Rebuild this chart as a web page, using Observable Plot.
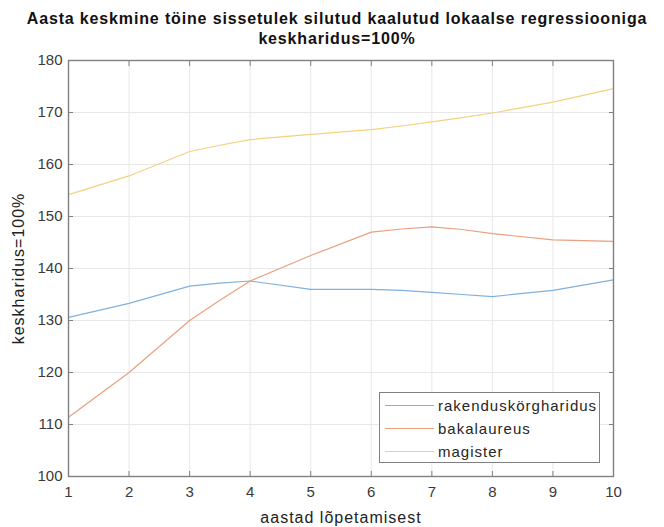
<!DOCTYPE html>
<html><head><meta charset="utf-8">
<script src="https://cdn.jsdelivr.net/npm/d3@7"></script>
<script src="https://cdn.jsdelivr.net/npm/@observablehq/plot@0.6"></script>
<style>
body{margin:0;background:#fff;font-family:"Liberation Sans",Arial,sans-serif;}
#wrap{position:relative;width:664px;height:527px;}
#title{position:absolute;left:0;top:9px;width:674px;text-align:center;font-weight:bold;font-size:16px;letter-spacing:0.85px;line-height:20px;color:#111;}
#chart{position:absolute;left:0;top:52px;}
#legend{position:absolute;left:379px;top:392px;width:221px;height:71px;border:1px solid #808080;background:#fff;box-sizing:border-box;font-size:15px;letter-spacing:1px;color:#262626;}
.row{position:absolute;left:5px;height:18px;display:flex;align-items:center;}
.row span.l{display:inline-block;width:49px;height:0;border-top:1.2px solid;margin-right:4px;}
</style></head>
<body><div id="wrap">
<div id="title">Aasta keskmine töine sissetulek silutud kaalutud lokaalse regressiooniga<br>keskharidus=100%</div>
<div id="chart"></div>
<div id="legend"></div>
</div>
<script>
const years = [1, 2, 3, 3.5, 4, 5, 6, 6.5, 7, 7.5, 8, 9, 10];
const rakenduskorgharidus = [130.6, 133.3, 136.6, 137.2, 137.6, 136.0, 136.0, 135.8, 135.4, 135.0, 134.6, 135.8, 137.8];
const bakalaureus = [111.4, 120.0, 130.0, 133.9, 137.6, 142.5, 147.0, 147.6, 148.0, 147.5, 146.7, 145.5, 145.2];
const magister = [154.2, 157.8, 162.5, 163.7, 164.8, 165.8, 166.7, 167.4, 168.2, 169.0, 169.9, 172.0, 174.6];
const seriesNames = ["rakenduskörgharidus", "bakalaureus", "magister"];
const seriesColors = ["#7fb1de", "#e8a07e", "#f3d27f"];
const xTicks = [1,2,3,4,5,6,7,8,9,10];
const yTicks = [100,110,120,130,140,150,160,170,180];

const seriesValues = [rakenduskorgharidus, bakalaureus, magister];
const data = [];
seriesNames.forEach((s, i) => years.forEach((x, j) => data.push({series: s, x, y: seriesValues[i][j]})));

const axisColor = "#808080";
const textStyle = {fill: "#3a3a3a", fontSize: 15, letterSpacing: "1px"};
const blank = () => "";

const chart = Plot.plot({
  width: 664, height: 475,
  marginTop: 8, marginBottom: 51, marginLeft: 68, marginRight: 51,
  style: {fontFamily: "Liberation Sans, Arial, sans-serif", fontSize: "15px", color: "#262626", background: "#fff"},
  x: {domain: [1, 10]},
  y: {domain: [100, 180]},
  color: {domain: seriesNames, range: seriesColors},
  marks: [
    Plot.gridX(xTicks, {stroke: "#e8e8e8", strokeOpacity: 1}),
    Plot.gridY(yTicks, {stroke: "#e8e8e8", strokeOpacity: 1}),
    Plot.line(data, {x: "x", y: "y", z: "series", stroke: "series", strokeWidth: 1.2}),
    // inward tick marks on all four sides
    Plot.axisX(xTicks, {anchor: "bottom", tickSize: 5, dy: -5, tickFormat: blank, label: null, stroke: axisColor}),
    Plot.axisX(xTicks, {anchor: "top", tickSize: 5, dy: 5, tickFormat: blank, label: null, stroke: axisColor}),
    Plot.axisY(yTicks, {anchor: "left", tickSize: 5, dx: 5, tickFormat: blank, label: null, stroke: axisColor}),
    Plot.axisY(yTicks, {anchor: "right", tickSize: 5, dx: -5, tickFormat: blank, label: null, stroke: axisColor}),
    // tick labels and axis titles
    Plot.axisX(xTicks, {anchor: "bottom", tickSize: 0, tickPadding: 10, ...textStyle, label: "aastad lõpetamisest", labelAnchor: "center", labelOffset: 46, labelArrow: "none"}),
    Plot.axisY(yTicks, {anchor: "left", tickSize: 0, tickPadding: 6, ...textStyle, label: "keskharidus=100%", labelAnchor: "center", labelOffset: 56, labelArrow: "none"}),
    Plot.frame({stroke: axisColor, strokeWidth: 1.4})
  ]
});
document.getElementById("chart").appendChild(chart);
chart.querySelectorAll("[aria-label$='axis label'] text").forEach(t => { t.setAttribute("font-size", 16); t.setAttribute("fill", "#222"); t.style.letterSpacing = "1px"; });

const leg = document.getElementById("legend");
seriesNames.forEach((s, i) => {
  const r = document.createElement("div");
  r.className = "row";
  r.style.top = (3 + i * 23) + "px";
  r.innerHTML = `<span class="l" style="border-color:${seriesColors[i]}"></span><span>${s}</span>`;
  leg.appendChild(r);
});
</script>
</body></html>
